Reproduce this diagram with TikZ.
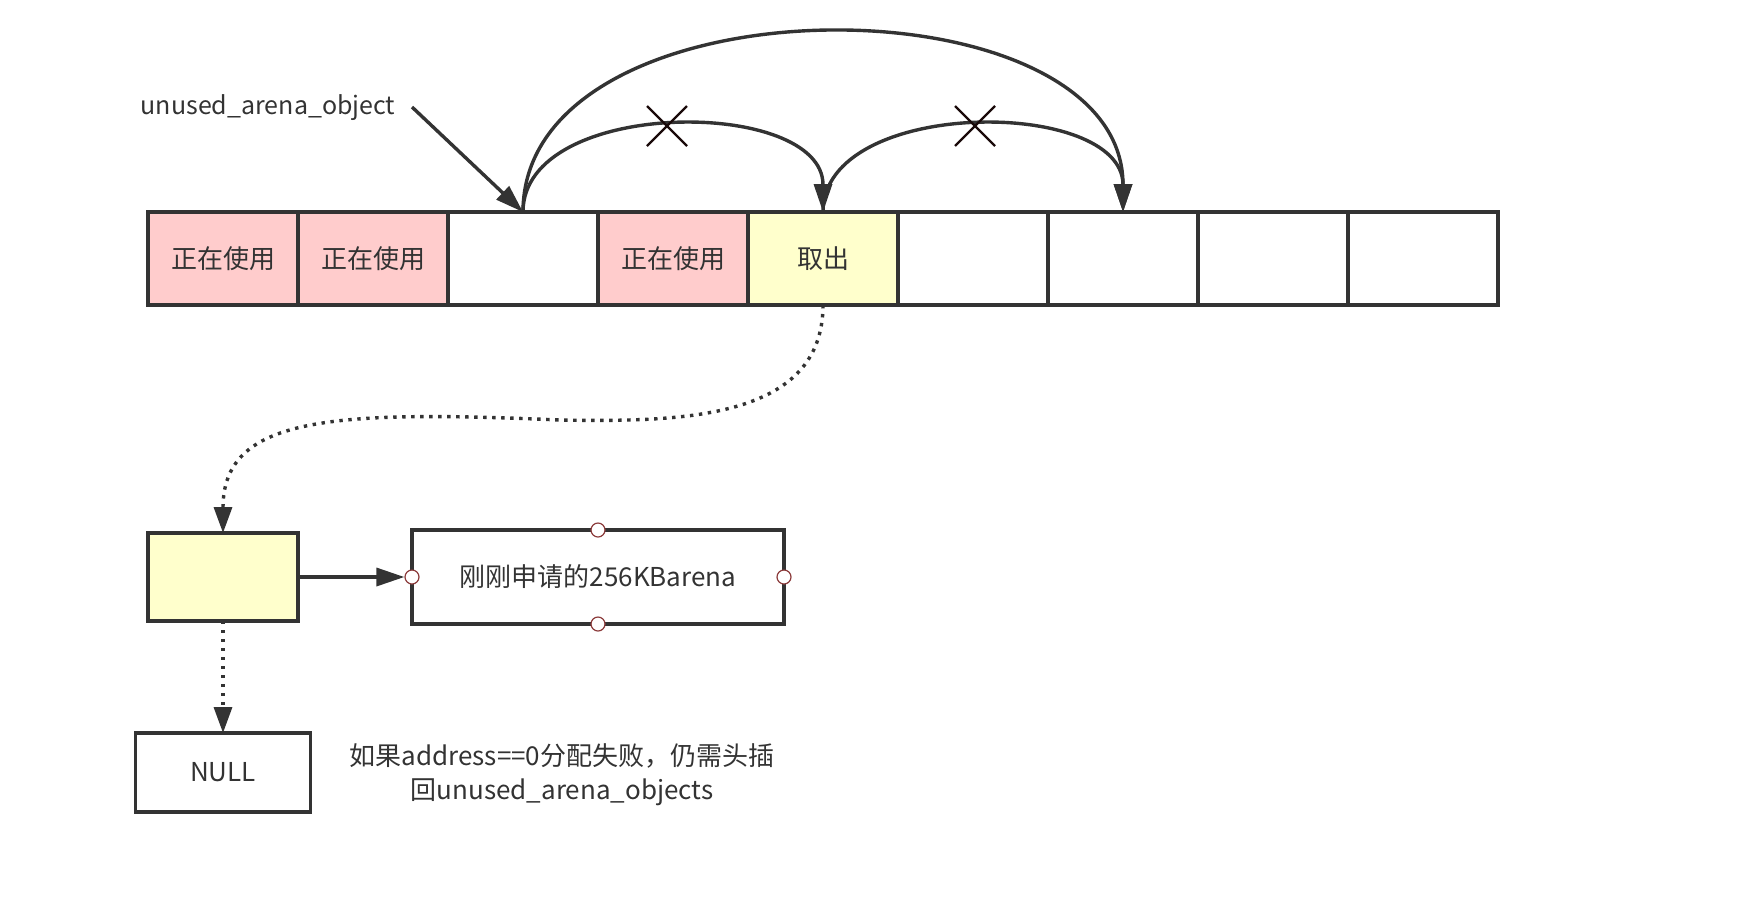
\documentclass[tikz,border=0pt]{standalone}
\usepackage{fontspec}
\setmainfont{Noto Sans CJK SC}
\usetikzlibrary{arrows.meta,calc}
\definecolor{ink}{HTML}{333333}
\definecolor{pinkc}{HTML}{FFCCCC}
\definecolor{yelc}{HTML}{FFFFCC}
\definecolor{ptc}{HTML}{8B3A3A}
\definecolor{xmk}{HTML}{1A0A0A}
\begin{document}
\begin{tikzpicture}[x=0.5pt,y=-0.5pt,
  every node/.style={font=\fontsize{13pt}{17pt}\selectfont, text=ink},
  cell/.style={draw=ink, line width=1.7pt, rectangle, inner sep=0pt, outer sep=0pt,
    minimum width=75pt, minimum height=46.5pt},
  usedcell/.style={cell, fill=pinkc},
  takecell/.style={cell, fill=yelc},
  arr/.style={draw=ink, line width=1.7pt, -{Triangle[length=14pt,width=9pt]}},
  dotarr/.style={draw=ink, line width=1.7pt, dash pattern=on 1.7pt off 2.8pt,
    -{Triangle[length=13pt,width=9pt]}},
  cpt/.style={circle, draw=ptc, fill=white, line width=0.6pt, minimum size=7pt, inner sep=0pt},
  xline/.style={draw=xmk, line width=1.2pt}
]
\useasboundingbox (0,0) rectangle (1750,902);

% array cells
\node[usedcell] (c1) at (223,258.5) {正在使用};
\node[usedcell] (c2) at (373,258.5) {正在使用};
\node[cell]     (c3) at (523,258.5) {};
\node[usedcell] (c4) at (673,258.5) {正在使用};
\node[takecell] (c5) at (823,258.5) {取出};
\node[cell]     (c6) at (973,258.5) {};
\node[cell]     (c7) at (1123,258.5) {};
\node[cell]     (c8) at (1273,258.5) {};
\node[cell]     (c9) at (1423,258.5) {};

% label and its arrow
\node[font=\fontsize{12.5pt}{17pt}\selectfont] (lbl) at (268,108) {unused\_arena\_object};
\coordinate (lblend) at (412,107);
\draw[arr] (lblend) -- (c3.north);

% arcs
\draw[arr] (c3.north) .. controls +(0,-115) and +(0,-115) .. (c5.north);
\draw[arr] (c5.north) .. controls +(0,-115) and +(0,-115) .. (c7.north);
\draw[arr] (c3.north) .. controls +(0,-238) and +(0,-238) .. (c7.north);

% crosses
\coordinate (x1) at (667,126);
\coordinate (x2) at (975,126);
\draw[xline] ($(x1)+(-20,-20)$) -- ($(x1)+(20,20)$);
\draw[xline] ($(x1)+(20,-20)$) -- ($(x1)+(-20,20)$);
\draw[xline] ($(x2)+(-20,-20)$) -- ($(x2)+(20,20)$);
\draw[xline] ($(x2)+(20,-20)$) -- ($(x2)+(-20,20)$);

% lower part
\node[cell, fill=yelc, minimum width=75pt, minimum height=44pt] (yb) at (223,577) {};
\node[cell, line width=1.6pt, minimum width=186pt, minimum height=47pt] (arena) at (598,577) {刚刚申请的256KBarena};
\node[cell, line width=1.6pt, minimum width=87.5pt, minimum height=39.5pt] (nul) at (223,772.5) {NULL};
\node[align=center] (note) at (562,775) {如果address==0分配失败，仍需头插\\回unused\_arena\_objects};

\node[cpt] (pn) at (arena.north) {};
\node[cpt] (ps) at (arena.south) {};
\node[cpt] (pw) at (arena.west) {};
\node[cpt] (pe) at (arena.east) {};

\coordinate (mid) at (560,420);
\draw[dotarr] (c5.south) .. controls +(0,115) and (680,422) .. (mid)
  .. controls (330,410) and +(0,-116) .. (yb.north);
\draw[arr] (yb.east) -- (pw.west);
\draw[dotarr] (yb.south) -- (nul.north);
\end{tikzpicture}
\end{document}
